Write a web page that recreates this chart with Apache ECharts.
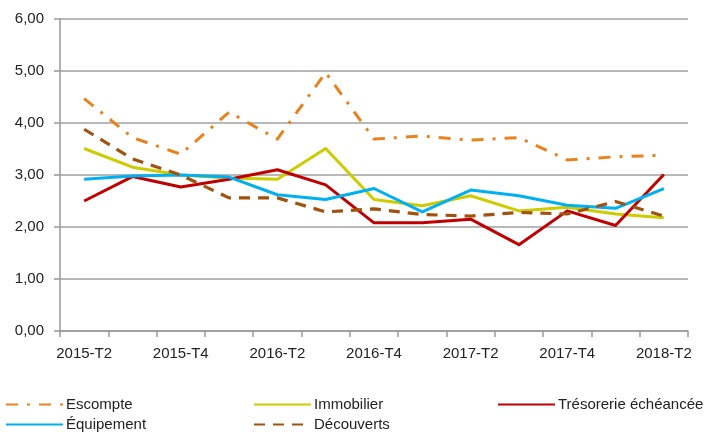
<!DOCTYPE html>
<html>
<head>
<meta charset="utf-8">
<script src="https://cdn.jsdelivr.net/npm/echarts@6/dist/echarts.min.js"></script>
<style>
html,body{margin:0;padding:0;background:#fff;}
#main{width:713px;height:432px;}
</style>
</head>
<body>
<div id="main"></div>
<script>
const categories = ['2015-T2','2015-T3','2015-T4','2016-T1','2016-T2','2016-T3','2016-T4','2017-T1','2017-T2','2017-T3','2017-T4','2018-T1','2018-T2'];
const escompte    = [4.47, 3.72, 3.40, 4.21, 3.69, 4.97, 3.69, 3.75, 3.67, 3.72, 3.29, 3.35, 3.38];
const immobilier  = [3.51, 3.15, 3.00, 2.94, 2.92, 3.51, 2.53, 2.41, 2.60, 2.31, 2.38, 2.25, 2.18];
const tresorerie  = [2.50, 2.97, 2.77, 2.92, 3.10, 2.81, 2.08, 2.08, 2.15, 1.66, 2.31, 2.03, 3.01];
const equipement  = [2.92, 2.98, 3.00, 2.96, 2.62, 2.53, 2.74, 2.29, 2.71, 2.60, 2.42, 2.36, 2.74];
const decouverts  = [3.88, 3.31, 3.00, 2.56, 2.56, 2.29, 2.35, 2.24, 2.21, 2.28, 2.25, 2.49, 2.21];
const yTicks = [0, 1, 2, 3, 4, 5, 6];

const FONT = 'Liberation Sans';
const textStyle = {fontFamily: FONT, fontSize: 15, color: '#222'};

function mkSeries(name, data, color, type, width) {
  return {
    name, type: 'line', data, symbol: 'none', smooth: false,
    lineStyle: {color, width, type, cap: 'butt', join: 'round'},
    itemStyle: {color},
    emphasis: {disabled: true},
    animation: false
  };
}

function mkLegend(name, left, top) {
  return {
    data: [name], left, top, orient: 'horizontal',
    itemWidth: 57, itemHeight: 12, itemGap: 0,
    itemStyle: {color: 'rgba(0,0,0,0)', borderWidth: 0, opacity: 0},
    textStyle: Object.assign({}, textStyle, {padding: [0,0,0,-2]}),
    selectedMode: false, padding: 0
  };
}

const chart = echarts.init(document.getElementById('main'), null, {renderer: 'canvas'});
chart.setOption({
  backgroundColor: '#fff',
  animation: false,
  grid: {left: 60, right: 25, top: 19, bottom: 101, containLabel: false},
  xAxis: {
    type: 'category', data: categories, boundaryGap: true,
    axisLine: {lineStyle: {color: '#999', width: 1.5}},
    axisTick: {show: true, interval: 0, length: 6, lineStyle: {color: '#999', width: 1.5}},
    axisLabel: {interval: 1, margin: 15, fontFamily: FONT, fontSize: 15, color: '#222'},
    splitLine: {show: false}
  },
  yAxis: {
    type: 'value', min: yTicks[0], max: yTicks[yTicks.length-1], interval: 1,
    axisLine: {show: true, lineStyle: {color: '#999', width: 1.5}},
    axisTick: {show: true, length: 6, lineStyle: {color: '#999', width: 1.5}},
    axisLabel: {margin: 16, fontFamily: FONT, fontSize: 15, color: '#222',
      formatter: v => v.toFixed(2).replace('.', ',')},
    splitLine: {show: true, lineStyle: {color: '#a0a0a0', width: 1.5}}
  },
  legend: [
    mkLegend('Escompte', 5, 397),
    mkLegend('Immobilier', 253, 397),
    mkLegend('Trésorerie échéancée', 497, 397),
    mkLegend('Équipement', 5, 417),
    mkLegend('Découverts', 253, 417)
  ],
  series: [
    mkSeries('Escompte', escompte, '#E8821E', [12, 9, 3, 9], 3),
    mkSeries('Immobilier', immobilier, '#CCCC00', 'solid', 3),
    mkSeries('Trésorerie échéancée', tresorerie, '#C00000', 'solid', 3),
    mkSeries('Équipement', equipement, '#00B0F0', 'solid', 3),
    mkSeries('Découverts', decouverts, '#A0520E', [11, 8], 3.2)
  ]
});
</script>
</body>
</html>
